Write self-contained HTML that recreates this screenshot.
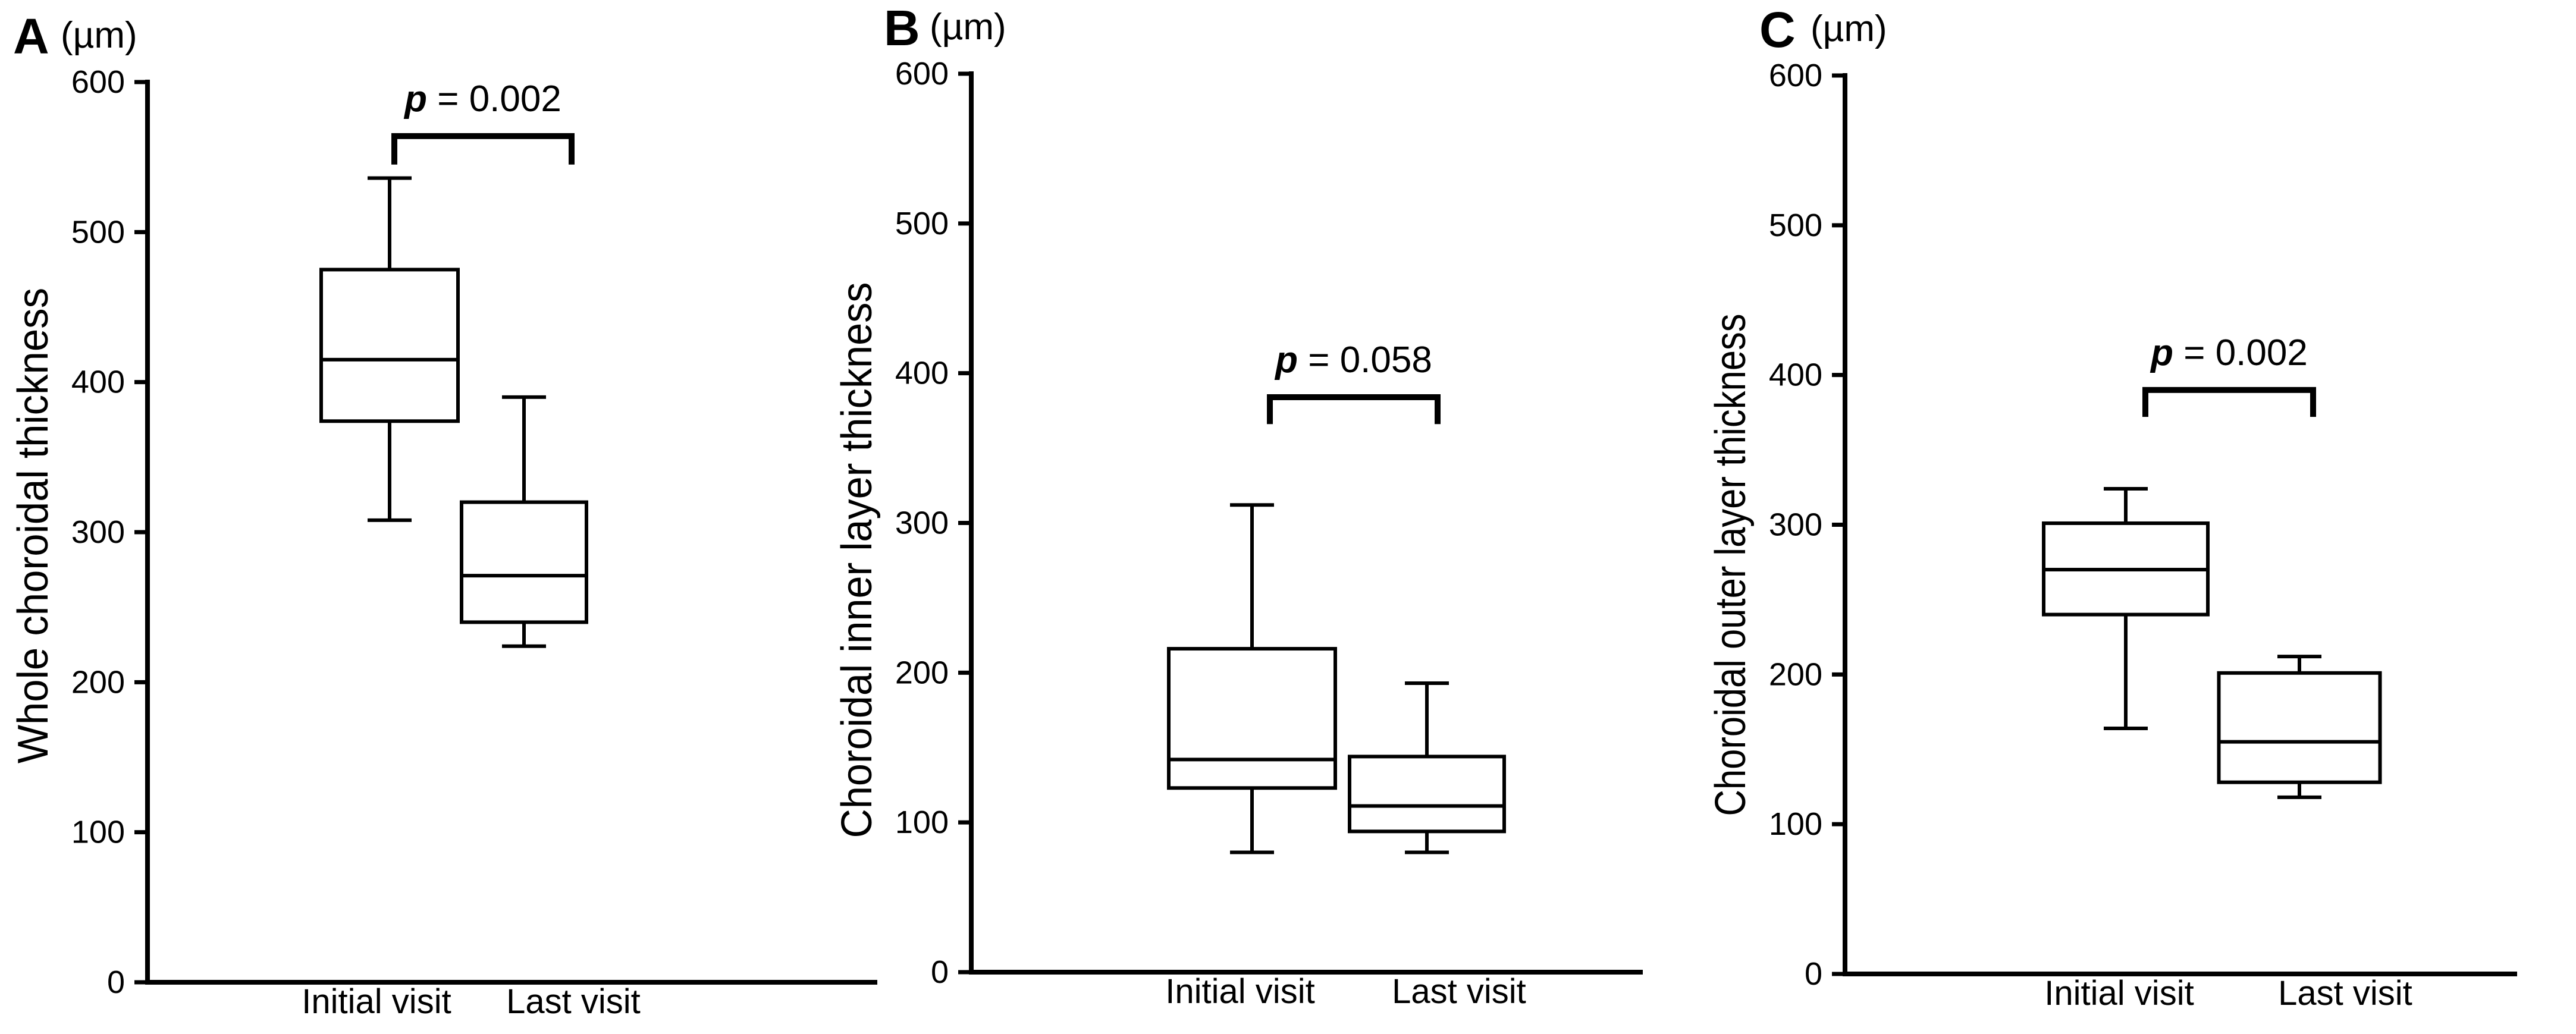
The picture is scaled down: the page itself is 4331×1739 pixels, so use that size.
<!DOCTYPE html>
<html><head><meta charset="utf-8"><style>
html,body{margin:0;padding:0;background:#fff;}
svg{display:block;font-family:"Liberation Sans",sans-serif;}
</style></head><body>
<svg id="fig" width="4331" height="1739" viewBox="0 0 4331 1739"></svg>
<script>
const categories = ["Initial visit", "Last visit"];
const ticks = [0, 100, 200, 300, 400, 500, 600];
const panelLetters = ["A", "B", "C"];
const yTitles = ["Whole choroidal thickness", "Choroidal inner layer thickness", "Choroidal outer layer thickness"];
const pTexts = ["0.002", "0.058", "0.002"];
// [whiskerHigh, Q3, median, Q1, whiskerLow] per category
const aInitial = [536, 475, 415, 374, 308];
const aLast = [390, 320, 271, 240, 224];
const bInitial = [312, 216, 142, 123, 80];
const bLast = [193, 144, 111, 94, 80];
const cInitial = [324, 301, 270, 240, 164];
const cLast = [212, 201, 155, 128, 118];
const bracketValues = [564, 384, 390];
const bracketDrops = [545, 366, 372];

const panels = [
  {ax:248, y0:1652, y600:138, xEnd:1475, c:[655,881], bw:[230,210], data:[aInitial,aLast], lx:22, ux:102, tl:800, tmid:884, lab:[633,964], br:[663,961]},
  {ax:1633, y0:1635, y600:124, xEnd:2762, c:[2105,2399], bw:[280,260], data:[bInitial,bLast], lx:1486, ux:1563, tl:935, tmid:942, lab:[2085,2453], br:[2135,2417]},
  {ax:3102, y0:1638, y600:127, xEnd:4232, c:[3574,3866], bw:[276,271], data:[cInitial,cLast], lx:2958, ux:3044, tl:845, tmid:950, lab:[3563,3943], br:[3607,3889]}
];
const svg = document.getElementById('fig');
const NS = "http://www.w3.org/2000/svg";
function mk(tag, attrs, parent){const e=document.createElementNS(NS,tag);for(const k in attrs)e.setAttribute(k,attrs[k]);(parent||svg).appendChild(e);return e;}
function line(g,x1,y1,x2,y2,w){return mk('line',{x1,y1,x2,y2,stroke:'#000','stroke-width':w},g);}

panels.forEach((p,i)=>{
  const y = v => p.y0 - (v/600)*(p.y0-p.y600);
  const g = mk('g',{});
  
  
  const lt = mk('text',{x:p.lx,y:p.y600-48,'font-size':84,'font-weight':'bold'},g);
  lt.textContent = panelLetters[i];
  
  
  const um = mk('text',{x:p.ux,y:p.y600-58,'font-size':62},g);
  um.textContent = '(µm)';
  
  
  const ya = line(g,p.ax,p.y600-4,p.ax,p.y0+4,8);
  
  
  const xa = line(g,p.ax-4,p.y0,p.xEnd,p.y0,8);
  
  
  ticks.forEach(t=>{
    const tk = line(g,p.ax-22,y(t),p.ax,y(t),7);
    
    
    const tl = mk('text',{x:p.ax-38,y:y(t)+18,'font-size':54,'text-anchor':'end'},g);
    tl.textContent = t;
    
    
  });
  const yt = mk('text',{x:0,y:0,'font-size':72,'text-anchor':'middle',transform:`translate(${p.ax-168},${p.tmid}) rotate(-90)`,textLength:p.tl,lengthAdjust:'spacingAndGlyphs'},g);
  yt.textContent = yTitles[i];
  
  
  categories.forEach((c,j)=>{
    const xl = mk('text',{x:p.lab[j],y:p.y0+52,'font-size':58,'text-anchor':'middle'},g);
    xl.textContent = c;
    
    
    const d = p.data[j], cxb = p.c[j], hw = p.bw[j]/2;
    const bg = mk('g',{},g);
    
    
    line(bg,cxb,y(d[0]),cxb,y(d[1]),6);
    line(bg,cxb,y(d[3]),cxb,y(d[4]),6);
    line(bg,cxb-37,y(d[0]),cxb+37,y(d[0]),6);
    line(bg,cxb-37,y(d[4]),cxb+37,y(d[4]),6);
    mk('rect',{x:cxb-hw,y:y(d[1]),width:2*hw,height:y(d[3])-y(d[1]),fill:'none',stroke:'#000','stroke-width':6},bg);
    line(bg,cxb-hw,y(d[2]),cxb+hw,y(d[2]),6);
  });
  const bx1 = p.br[0], bx2 = p.br[1];
  const by = y(bracketValues[i]), bd = y(bracketDrops[i]);
  const br = mk('path',{d:`M${bx1},${bd} L${bx1},${by} L${bx2},${by} L${bx2},${bd}`,fill:'none',stroke:'#000','stroke-width':10},g);
  
  
  const pt = mk('text',{x:(bx1+bx2)/2,y:by-42,'font-size':62,'text-anchor':'middle'},g);
  pt.innerHTML = '<tspan font-style="italic" font-weight="bold">p</tspan> = '+pTexts[i];
  
  
});
</script>
</body></html>
